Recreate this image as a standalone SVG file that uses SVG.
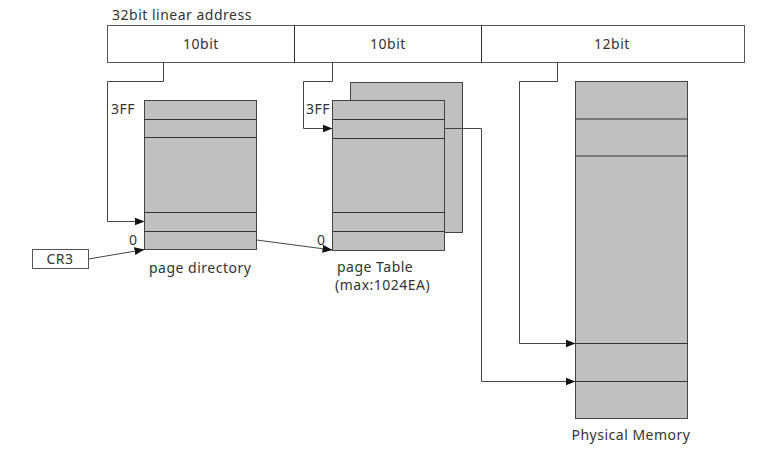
<svg xmlns="http://www.w3.org/2000/svg" width="761" height="458" viewBox="0 0 761 458">
<defs>
<style>
text{font-family:"Noto Sans","Open Sans",sans-serif;font-size:14px;letter-spacing:0.5px;fill:#333}
.box{fill:#fff;stroke:#555;stroke-width:1}
.tbl{fill:#c0c0c0;stroke:#444;stroke-width:1}
.row{stroke:#333;stroke-width:1;fill:none}
.c{fill:none;stroke:#444;stroke-width:1}
</style>
<marker id="ah" viewBox="0 0 10 10" refX="10" refY="5" markerWidth="10" markerHeight="10" markerUnits="userSpaceOnUse" orient="auto">
<path d="M0,1 L10,5 L0,9 Z" fill="#111"/>
</marker>
</defs>
<rect width="761" height="458" fill="#fff"/>
<g id="linear-address">
<text x="112" y="20">32bit linear address</text>
<rect class="box" x="107.5" y="25.5" width="637" height="37"/>
<line class="row" x1="294.5" y1="25.5" x2="294.5" y2="62.5"/>
<line class="row" x1="481.5" y1="25.5" x2="481.5" y2="62.5"/>
<text x="201" y="49" text-anchor="middle">10bit</text>
<text x="388" y="49" text-anchor="middle">10bit</text>
<text x="612" y="49" text-anchor="middle">12bit</text>
</g>
<g id="cr3">
<rect class="box" x="32.5" y="249.5" width="56" height="19"/>
<text x="60" y="264" text-anchor="middle">CR3</text>
</g>
<g id="page-directory">
<rect class="tbl" x="144.5" y="100.5" width="112" height="149"/>
<line class="row" x1="144.5" y1="119.5" x2="256.5" y2="119.5"/>
<line class="row" x1="144.5" y1="137.5" x2="256.5" y2="137.5"/>
<line class="row" x1="144.5" y1="212.5" x2="256.5" y2="212.5"/>
<line class="row" x1="144.5" y1="231.5" x2="256.5" y2="231.5"/>
<text x="111" y="114">3FF</text>
<text x="129" y="245">0</text>
<text x="149" y="273">page directory</text>
</g>
<g id="page-table">
<rect class="tbl" x="350.5" y="82.5" width="112" height="150"/>
<rect class="tbl" x="332.5" y="100.5" width="112" height="150"/>
<line class="row" x1="332.5" y1="119.5" x2="444.5" y2="119.5"/>
<line class="row" x1="332.5" y1="138.5" x2="444.5" y2="138.5"/>
<line class="row" x1="332.5" y1="212.5" x2="444.5" y2="212.5"/>
<line class="row" x1="332.5" y1="231.5" x2="444.5" y2="231.5"/>
<text x="306" y="114">3FF</text>
<text x="317" y="245">0</text>
<text x="337" y="272">page Table</text>
<text x="335" y="290">(max:1024EA)</text>
</g>
<g id="physical-memory">
<rect class="tbl" x="575.5" y="81.5" width="112" height="337"/>
<line class="row" x1="575.5" y1="119" x2="687.5" y2="119"/>
<line class="row" x1="575.5" y1="156" x2="687.5" y2="156"/>
<line class="row" x1="575.5" y1="343.5" x2="687.5" y2="343.5"/>
<line class="row" x1="575.5" y1="381.5" x2="687.5" y2="381.5"/>
<text x="631" y="440" text-anchor="middle">Physical Memory</text>
</g>
<g id="connectors">
<polyline class="c" points="163.5,62.5 163.5,81.5 107.5,81.5 107.5,221.5 144.5,221.5" marker-end="url(#ah)"/>
<polyline class="c" points="332.5,62.5 332.5,81.5 303.5,81.5 303.5,128.5 332.5,128.5" marker-end="url(#ah)"/>
<polyline class="c" points="557.5,62.5 557.5,81.5 519.5,81.5 519.5,343.5 575.5,343.5" marker-end="url(#ah)"/>
<polyline class="c" points="444.5,128.5 481.5,128.5 481.5,381.5 575.5,381.5" marker-end="url(#ah)"/>
<line class="c" x1="88.5" y1="259" x2="144.5" y2="249.5" marker-end="url(#ah)"/>
<line class="c" x1="256.5" y1="240" x2="332.5" y2="250" marker-end="url(#ah)"/>
</g>
</svg>
